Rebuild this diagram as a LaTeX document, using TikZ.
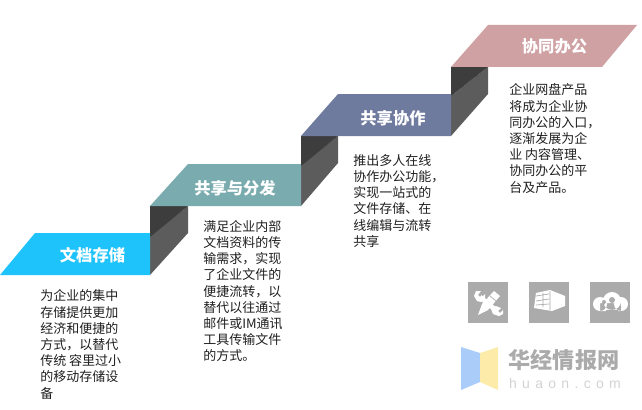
\documentclass[tikz,border=0pt]{standalone}
\usepackage{fontspec}
\newfontfamily\cjk{Noto Sans CJK SC}
\newfontfamily\latinspaced[LetterSpace=38]{Liberation Sans}
\definecolor{cblue}{HTML}{1FC3FB}
\definecolor{cteal}{HTML}{7AABAE}
\definecolor{cslate}{HTML}{6E7A9E}
\definecolor{cpink}{HTML}{CFA1A3}
\definecolor{foldlight}{HTML}{5C5C5C}
\definecolor{folddark}{HTML}{3D3D3D}
\definecolor{icongray}{HTML}{ABABAB}
\definecolor{logoblue}{HTML}{A9CCF8}
\definecolor{logoyellow}{HTML}{FDEBAA}
\definecolor{marktext}{HTML}{ABABAB}
\definecolor{marklight}{HTML}{D2D2D2}
\tikzset{
  title/.style={text=white,font=\cjk\bfseries\fontsize{12.2pt}{14pt}\selectfont,inner sep=0pt,anchor=center},
  body/.style={text=black!88,font=\cjk\fontsize{9.75pt}{12.15pt}\selectfont,align=left,inner sep=0pt,anchor=north west},
  iconbox/.style={fill=icongray,draw=none},
  glyph/.style={fill=white,draw=none},
  glyphline/.style={draw=white,line cap=butt},
  cut/.style={draw=icongray,line width=0.5pt},
}
\begin{document}
\begin{tikzpicture}[x=0.75pt,y=-0.75pt]
\useasboundingbox (0,0) rectangle (642,410);
% folds
\fill[foldlight] (150,236)--(188,206)--(188,233)--(150,275)--cycle;
\fill[folddark] (150,206)--(188,206)--(150,237)--cycle;
\fill[foldlight] (301,165)--(338,136)--(338,163)--(301,206)--cycle;
\fill[folddark] (301,136)--(338,136)--(301,166)--cycle;
\fill[foldlight] (451,96)--(488,67)--(488,94)--(451,136)--cycle;
\fill[folddark] (451,67)--(488,67)--(451,96)--cycle;
% ribbons
\fill[cblue] (0,275)--(35,233)--(150,233)--(150,275)--cycle;
\fill[cteal] (150,206)--(188,164)--(301,164)--(301,206)--cycle;
\fill[cslate] (301,136)--(338,94)--(451,94)--(451,136)--cycle;
\fill[cpink] (451,67)--(488,25)--(637,25)--(602,67)--cycle;
% titles
\node[title] (t1) at (92.5,255.5) {文档存储};
\node[title] (t2) at (235,188) {共享与分发};
\node[title] (t3) at (393,118) {共享协作};
\node[title] (t4) at (554.5,46.5) {协同办公};
% bodies
\node[body] (b1) at (40,289.5) {为企业的集中\\存储提供更加\\经济和便捷的\\方式，以替代\\传统 容里过小\\的移动存储设\\备};
\node[body] (b2) at (203,220) {满足企业内部\\文档资料的传\\输需求，实现\\了企业文件的\\便捷流转，以\\替代以往通过\\邮件或IM通讯\\工具传输文件\\的方式。};
\node[body] (b3) at (353,154) {推出多人在线\\协作办公功能，\\实现一站式的\\文件存储、在\\线编辑与流转\\共享};
\node[body] (b4) at (509,83.5) {企业网盘产品\\将成为企业协\\同办公的入口，\\逐渐发展为企\\业 内容管理、\\协同办公的平\\台及产品。};
% icon 1: crossed tools
\fill[iconbox] (468,282) rectangle (508,323);
\draw[glyphline,line width=3.5pt] (480,297)--(497,311);
\fill[glyph] (474,296)--(476,291)--(481,291)--(478,295)--(481,298)--(485,294)--(485,299)--(481,302)--(477,301)--cycle;
\fill[glyph] (499,316)--(493,314)--(491,309)--(496,306)--(501,308)--(498,311)--(500,313)--(503,310)--(503,314)--cycle;
\fill[glyph] (494,291)--(500,296)--(488,310)--(478,315)--(482,304)--cycle;
\draw[cut] (490,296)--(496,301);
% icon 2: building
\fill[iconbox] (529,282) rectangle (569,323);
\fill[glyph] (536,293)--(550,290)--(565,296)--(565,306)--(552,311)--(534,308)--cycle;
\draw[cut] (536,296)--(549,294) (536,301)--(549,299) (536,305)--(549,304) (543,293)--(543,307) (550,291)--(550,310);
% icon 3: cloud
\fill[iconbox] (590,282) rectangle (630,323);
\fill[glyph] (600,304) circle (7) (621,304) circle (7) (612,301) circle (9) (600,303) rectangle (621,311);
\fill[icongray] (612,300) circle (3) (604,302) circle (2);
\fill[icongray] (606,310) arc[start angle=180,end angle=0,radius=6] --cycle;
\draw[icongray,line width=1pt] (604,302)--(603,309);
% logo
\fill[logoblue] (461,347)--(480,353)--(480,382)--(461,390)--cycle;
\fill[logoyellow] (480,353)--(498,347)--(498,390)--(480,382)--cycle;
\node[text=marktext,font=\cjk\bfseries\fontsize{16.6pt}{20pt}\selectfont,inner sep=0pt] (m1) at (564,360) {华经情报网};
\node[text=marklight,font=\latinspaced\fontsize{10.5pt}{12pt}\selectfont,inner sep=0pt] (m2) at (565,383) {huaon.com};
\end{tikzpicture}
\end{document}
